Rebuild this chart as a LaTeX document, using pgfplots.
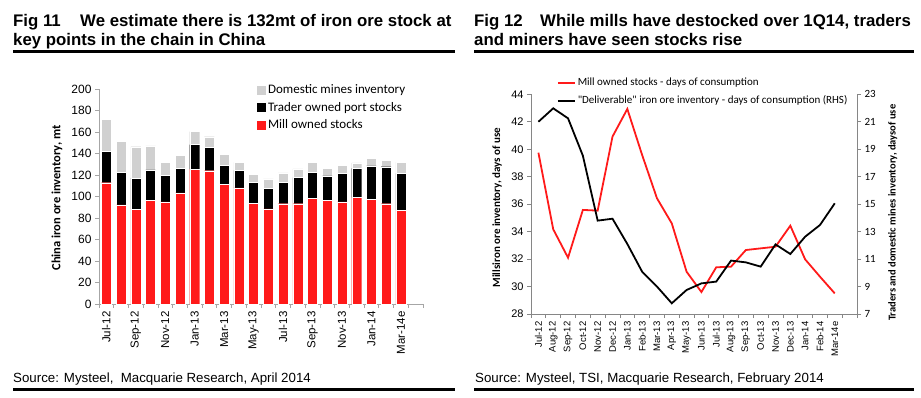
\documentclass[border=0pt]{standalone}
\usepackage{pgfplots}
\pgfplotsset{compat=1.18}
\usepackage{fontspec}
\setmainfont{Liberation Sans}
\newfontfamily\calibri{Carlito}
\definecolor{exred}{HTML}{FF1A1A}
\definecolor{exgrey}{HTML}{D0D0D0}
\definecolor{axgrey}{HTML}{A6A6A6}
\definecolor{rgrey}{HTML}{868686}
\newcommand{\fs}[2]{\fontsize{#1bp}{#2bp}\selectfont}
\begin{document}
\begin{tikzpicture}
\path[use as bounding box] (0,0) rectangle (921bp,-398bp);
% ---------- titles ----------
\node[anchor=base west, inner sep=0, font=\bfseries\fs{16.8}{20}] at (13bp,-26bp) {\makebox[67bp][l]{Fig 11}We estimate there is 132mt of iron ore stock at};
\node[anchor=base west, inner sep=0, font=\bfseries\fs{16.8}{20}] at (13bp,-45bp) {key points in the chain in China};
\draw[line width=2.5bp] (13bp,-51.7bp) -- (455bp,-51.7bp);
\node[anchor=base west, inner sep=0, font=\bfseries\fs{16.8}{20}] at (474bp,-26bp) {\makebox[66bp][l]{Fig 12}While mills have destocked over 1Q14, traders};
\node[anchor=base west, inner sep=0, font=\bfseries\fs{16.8}{20}] at (474bp,-45bp) {and miners have seen stocks rise};
\draw[line width=2.5bp] (474bp,-51.7bp) -- (914bp,-51.7bp);
% ---------- sources ----------
\node[anchor=base west, inner sep=0, font=\fs{13.3}{16}] at (13bp,-382bp) {Source: Mysteel,\ \ Macquarie Research, April 2014};
\draw[line width=2.5bp] (13bp,-389.3bp) -- (455bp,-389.3bp);
\node[anchor=base west, inner sep=0, font=\fs{13.3}{16}] at (475bp,-382bp) {Source: Mysteel, TSI, Macquarie Research, February 2014};
\draw[line width=2.5bp] (474bp,-389.3bp) -- (914bp,-389.3bp);
% ---------- Fig 11 ----------
\begin{axis}[
 at={(99bp,-304bp)}, anchor=south west,
 scale only axis, width=324bp, height=215bp,
 ybar stacked, bar width=10bp,
 xmin=-0.5, xmax=21.5, ymin=0, ymax=200,
 axis x line*=bottom, axis y line*=left,
 axis line style={axgrey,-,line width=0.8bp},
 tick style={axgrey, line width=0.8bp},
 tick align=outside, major tick length=4bp, minor tick length=4bp,
 ytick={0,20,...,200},
 xtick={0,2,...,20},
 xticklabels={Jul-12,Sep-12,Nov-12,Jan-13,Mar-13,May-13,Jul-13,Sep-13,Nov-13,Jan-14,Mar-14e},
 major x tick style={draw=none},
 minor xtick={-0.5,0.5,...,21.5},
 x tick label style={rotate=90, anchor=east, font=\fs{11.5}{13}},
 y tick label style={font=\fs{12}{14}},
 /pgf/number format/assume math mode=true,
 ylabel={China iron ore inventory, mt},
 ylabel style={at={(axis description cs:-0.13,0.493)}, anchor=center, font=\calibri\bfseries\fs{12.5}{15}},
 legend style={at={(0.48,1.035)}, anchor=north west, draw=none, fill=none,
   font=\calibri\fs{13}{15}, row sep=3bp, inner sep=1bp},
 legend cell align=left,
 reverse legend,
 legend image code/.code={\fill[#1] (0bp,-5bp) rectangle (10bp,5bp);},
]
\addplot[fill=exred, draw=white, line width=0.4bp] coordinates {
(0,112.8) (1,92.1) (2,88.0) (3,96.7) (4,94.9) (5,103.3) (6,125.2) (7,124.0) (8,111.4) (9,108.1) (10,93.9)
(11,88.6) (12,93.3) (13,93.3) (14,98.6) (15,96.1) (16,94.9) (17,99.0) (18,97.3) (19,93.3) (20,87.0)};
\addplot[fill=black, draw=white, line width=0.4bp] coordinates {
(0,29.5) (1,30.3) (2,29.2) (3,28.0) (4,24.7) (5,22.6) (6,23.0) (7,21.4) (8,17.6) (9,16.1) (10,19.4)
(11,18.7) (12,20.0) (13,24.2) (14,23.8) (15,23.0) (16,26.6) (17,27.2) (18,31.1) (19,34.4) (20,34.6)};
\addplot[fill=exgrey, draw=white, line width=0.4bp] coordinates {
(0,29.5) (1,29.2) (2,29.1) (3,22.3) (4,12.2) (5,12.3) (6,12.1) (7,10.2) (8,10.2) (9,7.6) (10,7.6)
(11,9.0) (12,8.6) (13,8.1) (14,9.4) (15,7.4) (16,7.8) (17,5.0) (18,6.8) (19,6.1) (20,10.4)};
\legend{Mill owned stocks, Trader owned port stocks, Domestic mines inventory}
\end{axis}
% ---------- Fig 12 (left axis) ----------
\begin{axis}[
 at={(531bp,-314bp)}, anchor=south west,
 scale only axis, width=326bp, height=219.7bp,
 xmin=-0.5, xmax=21.5, ymin=28, ymax=44,
 axis x line*=bottom, axis y line*=left,
 axis line style={rgrey,-,line width=0.8bp},
 tick style={rgrey, line width=0.8bp},
 tick align=outside, major tick length=4bp, minor tick length=4bp,
 ytick={28,30,...,44},
 xtick={0,...,20},
 xticklabels={Jul-12,Aug-12,Sep-12,Oct-12,Nov-12,Dec-12,Jan-13,Feb-13,Mar-13,Apr-13,May-13,Jun-13,Jul-13,Aug-13,Sep-13,Oct-13,Nov-13,Dec-13,Jan-14,Feb-14,Mar-14e},
 major x tick style={draw=none},
 minor xtick={-0.5,0.5,...,21.5},
 x tick label style={rotate=90, anchor=east, font=\fs{9.5}{11}},
 y tick label style={font=\fs{11}{13}},
 /pgf/number format/assume math mode=true,
 ylabel={Millsiron ore inventory, days of use},
 ylabel style={at={(axis description cs:-0.104,0.485)}, anchor=center, font=\calibri\bfseries\fs{11}{13}},
]
\addplot[exred, line width=1.8bp] coordinates {
(0,39.75) (1,34.17) (2,32.1) (3,35.58) (4,35.53) (5,40.92) (6,42.93) (7,39.58) (8,36.43) (9,34.6) (10,31.08)
(11,29.6) (12,31.4) (13,31.45) (14,32.66) (15,32.78) (16,32.9) (17,34.43) (18,31.98) (19,30.72) (20,29.5)};
\end{axis}
% ---------- Fig 12 (right axis) ----------
\begin{axis}[
 at={(531bp,-314bp)}, anchor=south west,
 scale only axis, width=326bp, height=219.7bp,
 xmin=-0.5, xmax=21.5, ymin=7, ymax=23,
 axis x line=none, axis y line*=right,
 axis line style={rgrey,-,line width=0.8bp},
 tick style={rgrey, line width=0.8bp},
 tick align=outside, major tick length=4bp,
 ytick={7,9,...,23},
 y tick label style={font=\calibri\fs{11}{13}},
 /pgf/number format/assume math mode=true,
 ylabel={Traders and domestic mines inventory, daysof use},
 ylabel style={at={(axis description cs:1.11,0.461)}, anchor=center, rotate=0, font=\calibri\bfseries\fs{10.5}{12}},
 legend style={at={(0.079,1.083)}, anchor=north west, draw=none, fill=none,
   font=\calibri\fs{11}{13}, row sep=4.5bp, inner sep=0bp},
 legend cell align=left,
]
\addlegendimage{exred, line width=1.8bp}
\addlegendentry{Mill owned stocks - days of consumption}
\addplot[black, line width=1.8bp] coordinates {
(0,21.0) (1,21.98) (2,21.25) (3,18.53) (4,13.8) (5,13.94) (6,12.1) (7,10.08) (8,9.0) (9,7.78) (10,8.75)
(11,9.23) (12,9.36) (13,10.89) (14,10.76) (15,10.45) (16,12.07) (17,11.37) (18,12.63) (19,13.48) (20,15.06)};
\addlegendentry{"Deliverable" iron ore inventory - days of consumption (RHS)}
\end{axis}
\end{tikzpicture}
\end{document}
